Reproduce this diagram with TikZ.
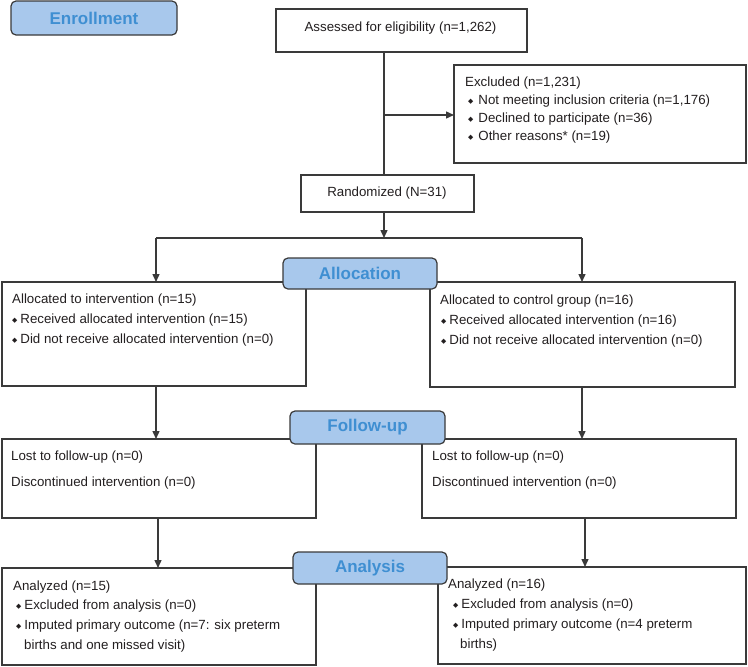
\documentclass[tikz,border=0pt]{standalone}
\usepackage{fontspec}
\setmainfont{Liberation Sans}
\newfontfamily\dejavu{DejaVu Sans}
\usetikzlibrary{arrows.meta}
\definecolor{lblfill}{HTML}{A8C8EC}
\definecolor{lbltext}{HTML}{3F8FD2}
\definecolor{edge}{HTML}{3A3A3A}
\definecolor{ink}{HTML}{231F20}
\newcommand\bul[1][3pt]{\raisebox{1.1pt}{\fontsize{6.8}{6.8}\selectfont\dejavu ◆}\hspace{#1}}
\begin{document}
\begin{tikzpicture}[x=1pt,y=-1pt,
  box/.style={draw=edge, line width=1.1pt, fill=white, anchor=north west, inner sep=0pt, outer sep=0pt},
  lbl/.style={draw=edge, line width=1.2pt, fill=lblfill, rounded corners=5pt, inner sep=0pt, text=lbltext, font=\fontsize{17}{20}\selectfont\bfseries},
  txt/.style={anchor=mid west, inner sep=0pt, text=ink, font=\fontsize{13.3}{15}\selectfont},
  ctxt/.style={anchor=mid, inner sep=0pt, text=ink, font=\fontsize{13.3}{15}\selectfont},
  link/.style={draw=edge, line width=1.4pt, -{Triangle[length=8pt,width=7pt]}},
  plain/.style={draw=edge, line width=1.4pt}]
\useasboundingbox (0,0) rectangle (748,667);
% boxes
\node[box, minimum width=251pt, minimum height=43pt] (assess) at (276,9) {};
\node[box, minimum width=292pt, minimum height=98pt] (excl) at (454,65) {};
\node[box, minimum width=173pt, minimum height=37pt] (rand) at (301,175) {};
\node[box, minimum width=304pt, minimum height=104pt] (allocL) at (2,282) {};
\node[box, minimum width=305pt, minimum height=105pt] (allocR) at (430,282) {};
\node[box, minimum width=314pt, minimum height=79pt] (fuL) at (2,439) {};
\node[box, minimum width=314pt, minimum height=79pt] (fuR) at (422,439) {};
\node[box, minimum width=314pt, minimum height=97pt] (anL) at (2,568) {};
\node[box, minimum width=308pt, minimum height=97pt] (anR) at (438,567) {};
% texts
\node[ctxt] (t-assess) at (400.5,29) {Assessed for eligibility (n=1,262)};
\node[ctxt] (t-rand) at (387,194) {Randomized (N=31)};
\node[txt] (ex0) at (465,84) {Excluded (n=1,231)};
\node[txt] (ex1) at (468,102) {\bul[5pt]Not meeting inclusion criteria (n=1,176)};
\node[txt] (ex2) at (468,120) {\bul[5pt]Declined to participate (n=36)};
\node[txt] (ex3) at (468,138) {\bul[5pt]Other reasons* (n=19)};
\node[txt] (al0) at (12,301) {Allocated to intervention (n=15)};
\node[txt] (al1) at (12,321) {\bul Received allocated intervention (n=15)};
\node[txt] (al2) at (12,341) {\bul Did not receive allocated intervention (n=0)};
\node[txt] (ar0) at (440,302) {Allocated to control group (n=16)};
\node[txt] (ar1) at (441,322) {\bul Received allocated intervention (n=16)};
\node[txt] (ar2) at (441,342) {\bul Did not receive allocated intervention (n=0)};
\node[txt] (fl0) at (11,458) {Lost to follow-up (n=0)};
\node[txt] (fl1) at (11,484) {Discontinued intervention (n=0)};
\node[txt] (fr0) at (432,458) {Lost to follow-up (n=0)};
\node[txt] (fr1) at (432,484) {Discontinued intervention (n=0)};
\node[txt] (nl0) at (13,588) {Analyzed (n=15)};
\node[txt] (nl1) at (16,607) {\bul Excluded from analysis (n=0)};
\node[txt] (nl2) at (16,627) {\bul Imputed primary outcome (n=7: six preterm};
\node[txt] (nl3) at (24,647) {births and one missed visit)};
\node[txt] (nr0) at (448,586) {Analyzed (n=16)};
\node[txt] (nr1) at (453,606) {\bul Excluded from analysis (n=0)};
\node[txt] (nr2) at (453,626) {\bul Imputed primary outcome (n=4 preterm};
\node[txt] (nr3) at (460,646) {births)};
% connectors
\coordinate (j1) at (384,115);
\coordinate (br) at (384,238);
\coordinate (bl) at (156,238);
\coordinate (brr) at (582,238);
\coordinate (cl) at (158,0);
\coordinate (cr) at (585,0);
\draw[plain] (assess.south -| j1) -- (rand.north -| j1);
\draw[link] (j1) -- (excl.west |- j1);
\draw[link] (rand.south -| br) -- (br);
\draw[plain] (bl) -- (brr);
\draw[link] (bl) -- (allocL.north -| bl);
\draw[link] (brr) -- (allocR.north -| brr);
\draw[link] (allocL.south -| bl) -- (fuL.north -| bl);
\draw[link] (allocR.south -| brr) -- (fuR.north -| brr);
\draw[link] (fuL.south -| cl) -- (anL.north -| cl);
\draw[link] (fuR.south -| cr) -- (anR.north -| cr);
% stage labels
\node[lbl, minimum width=166pt, minimum height=34pt] (enroll) at (94,18) {Enrollment};
\node[lbl, minimum width=154pt, minimum height=31pt] (alloc) at (360,273.5) {Allocation};
\node[lbl, minimum width=155pt, minimum height=33pt] (fu) at (367.5,427.5) {Follow-up};
\node[lbl, minimum width=154pt, minimum height=32pt] (an) at (370,568) {Analysis};
\end{tikzpicture}
\end{document}
